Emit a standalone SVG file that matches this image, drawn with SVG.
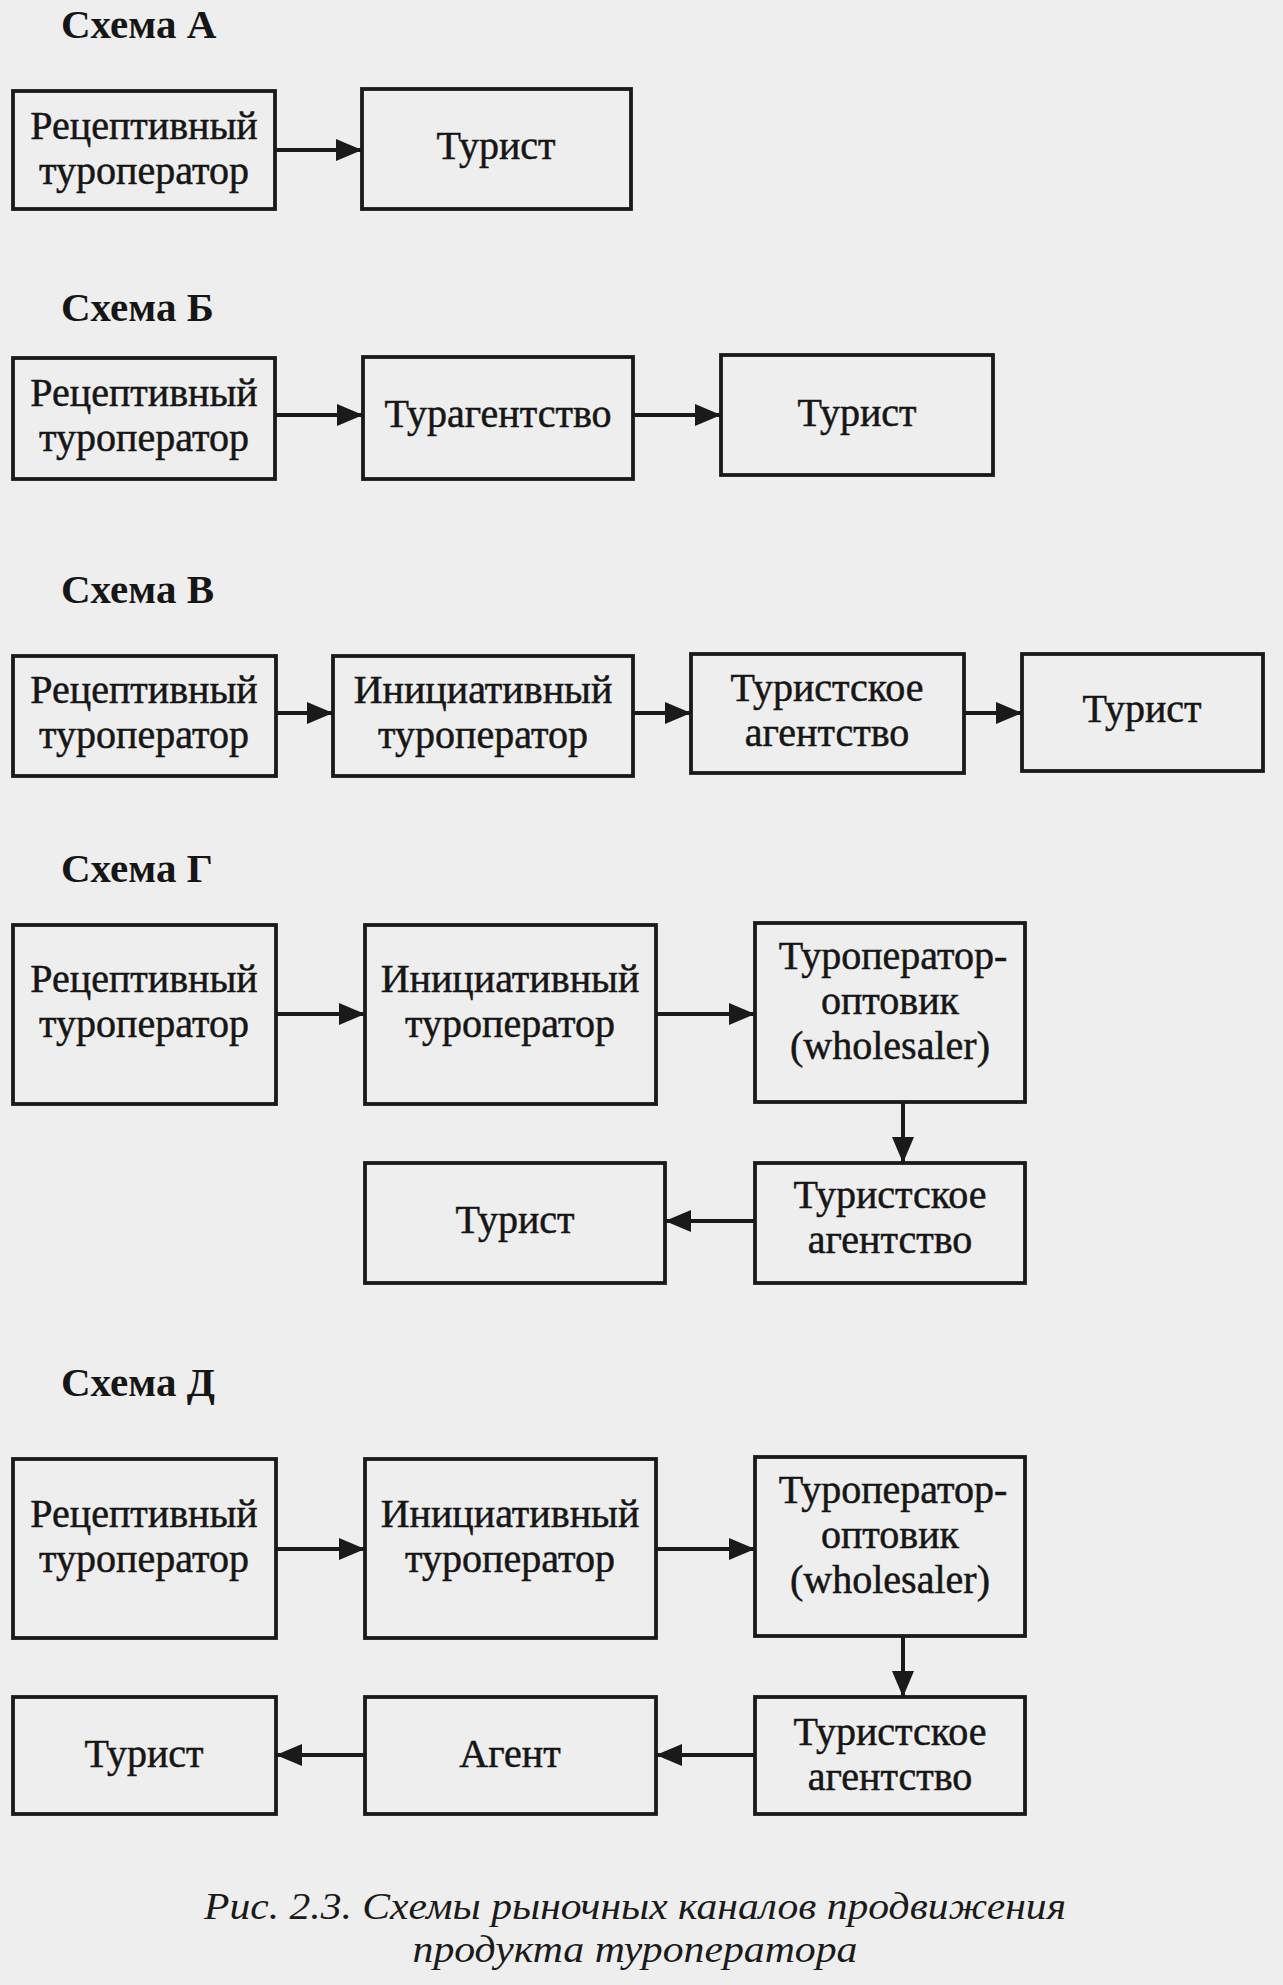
<svg xmlns="http://www.w3.org/2000/svg" width="1283" height="1985" viewBox="0 0 1283 1985">
<style>
.bg{fill:#eeeeee}
.box{fill:none;stroke:#1a1a1a;stroke-width:3.8}
.t{font-family:"Liberation Serif","Times New Roman",serif;font-size:40px;fill:#161616;stroke:#161616;stroke-width:0.5;text-anchor:middle}
.h{font-family:"Liberation Serif","Times New Roman",serif;font-size:41px;font-weight:bold;fill:#161616}
.cap{font-family:"Liberation Serif","Times New Roman",serif;font-size:37.5px;font-style:italic;fill:#1a1a1a;text-anchor:middle}
.c{stroke:#1a1a1a;stroke-width:4;fill:none;marker-end:url(#ah)}
</style>
<defs>
<marker id="ah" markerUnits="userSpaceOnUse" markerWidth="28" markerHeight="24" refX="26" refY="11" orient="auto">
<path d="M0,0 L26,11 L0,22 Z" fill="#1a1a1a"/>
</marker>
</defs>
<rect class="bg" x="0" y="0" width="1283" height="1985"/>

<g id="labels">
<text class="h" x="61" y="38">Схема А</text>
<text class="h" x="61" y="321">Схема Б</text>
<text class="h" x="61" y="603">Схема В</text>
<text class="h" x="61" y="882">Схема Г</text>
<text class="h" x="61" y="1396">Схема Д</text>
</g>

<g id="a1"><rect class="box" x="13" y="91" width="262" height="118"/><text class="t" x="144" y="139">Рецептивный</text><text class="t" x="144" y="184">туроператор</text></g>
<g id="a2"><rect class="box" x="362" y="89" width="269" height="120"/><text class="t" x="496" y="159">Турист</text></g>

<g id="b1"><rect class="box" x="13" y="358" width="262" height="121"/><text class="t" x="144" y="406">Рецептивный</text><text class="t" x="144" y="451">туроператор</text></g>
<g id="b2"><rect class="box" x="363" y="357" width="270" height="122"/><text class="t" x="498" y="427">Турагентство</text></g>
<g id="b3"><rect class="box" x="721" y="355" width="272" height="120"/><text class="t" x="857" y="426">Турист</text></g>

<g id="v1"><rect class="box" x="13" y="656" width="263" height="120"/><text class="t" x="144" y="703">Рецептивный</text><text class="t" x="144" y="748">туроператор</text></g>
<g id="v2"><rect class="box" x="333" y="656" width="300" height="120"/><text class="t" x="483" y="703">Инициативный</text><text class="t" x="483" y="748">туроператор</text></g>
<g id="v3"><rect class="box" x="691" y="654" width="273" height="119"/><text class="t" x="827" y="701">Туристское</text><text class="t" x="827" y="746">агентство</text></g>
<g id="v4"><rect class="box" x="1022" y="654" width="241" height="117"/><text class="t" x="1142" y="722">Турист</text></g>

<g id="g1"><rect class="box" x="13" y="925" width="263" height="179"/><text class="t" x="144" y="992">Рецептивный</text><text class="t" x="144" y="1037">туроператор</text></g>
<g id="g2"><rect class="box" x="365" y="925" width="291" height="179"/><text class="t" x="510" y="992">Инициативный</text><text class="t" x="510" y="1037">туроператор</text></g>
<g id="g3"><rect class="box" x="755" y="923" width="270" height="179"/><text class="t" x="893" y="969">Туроператор-</text><text class="t" x="890" y="1014">оптовик</text><text class="t" x="890" y="1059">(wholesaler)</text></g>
<g id="g4"><rect class="box" x="755" y="1163" width="270" height="120"/><text class="t" x="890" y="1208">Туристское</text><text class="t" x="890" y="1253">агентство</text></g>
<g id="g5"><rect class="box" x="365" y="1163" width="300" height="120"/><text class="t" x="515" y="1233">Турист</text></g>

<g id="d1"><rect class="box" x="13" y="1459" width="263" height="179"/><text class="t" x="144" y="1527">Рецептивный</text><text class="t" x="144" y="1572">туроператор</text></g>
<g id="d2"><rect class="box" x="365" y="1459" width="291" height="179"/><text class="t" x="510" y="1527">Инициативный</text><text class="t" x="510" y="1572">туроператор</text></g>
<g id="d3"><rect class="box" x="755" y="1457" width="270" height="179"/><text class="t" x="893" y="1503">Туроператор-</text><text class="t" x="890" y="1548">оптовик</text><text class="t" x="890" y="1593">(wholesaler)</text></g>
<g id="d4"><rect class="box" x="755" y="1697" width="270" height="117"/><text class="t" x="890" y="1745">Туристское</text><text class="t" x="890" y="1790">агентство</text></g>
<g id="d5"><rect class="box" x="365" y="1697" width="291" height="117"/><text class="t" x="510" y="1767">Агент</text></g>
<g id="d6"><rect class="box" x="13" y="1697" width="263" height="117"/><text class="t" x="144" y="1767">Турист</text></g>

<g id="connectors">
<line class="c" x1="275" y1="150" x2="362" y2="150"/>
<line class="c" x1="275" y1="415" x2="363" y2="415"/>
<line class="c" x1="633" y1="415" x2="721" y2="415"/>
<line class="c" x1="276" y1="713" x2="333" y2="713"/>
<line class="c" x1="633" y1="713" x2="691" y2="713"/>
<line class="c" x1="964" y1="713" x2="1022" y2="713"/>
<line class="c" x1="276" y1="1014" x2="365" y2="1014"/>
<line class="c" x1="656" y1="1014" x2="755" y2="1014"/>
<line class="c" x1="903" y1="1102" x2="903" y2="1163"/>
<line class="c" x1="755" y1="1221" x2="665" y2="1221"/>
<line class="c" x1="276" y1="1549" x2="365" y2="1549"/>
<line class="c" x1="656" y1="1549" x2="755" y2="1549"/>
<line class="c" x1="903" y1="1636" x2="903" y2="1697"/>
<line class="c" x1="755" y1="1755" x2="656" y2="1755"/>
<line class="c" x1="365" y1="1755" x2="276" y2="1755"/>
</g>

<g id="caption">
<text class="cap" x="635" y="1919" textLength="862" lengthAdjust="spacingAndGlyphs">Рис. 2.3. Схемы рыночных каналов продвижения</text>
<text class="cap" x="635" y="1962" textLength="445" lengthAdjust="spacingAndGlyphs">продукта туроператора</text>
</g>
</svg>
